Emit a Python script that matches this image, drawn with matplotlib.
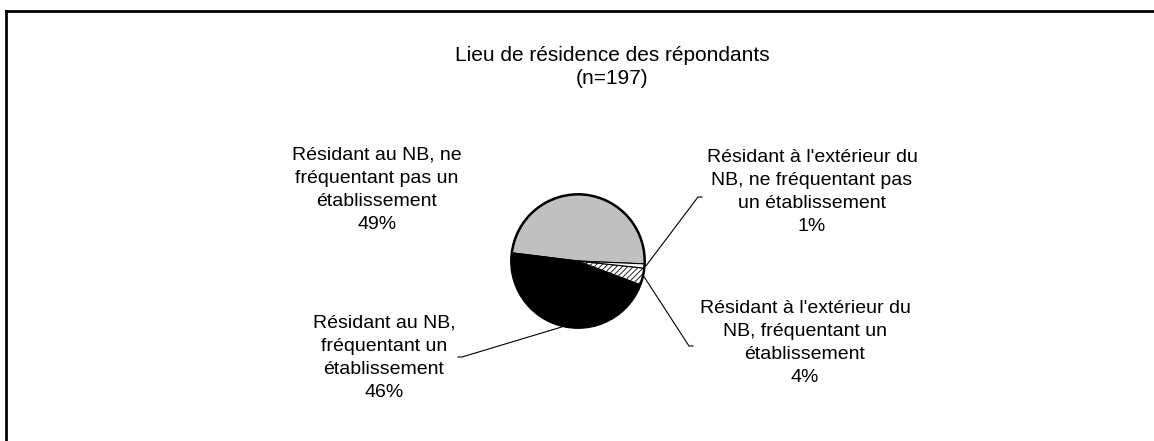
import numpy as np
import matplotlib
matplotlib.use('Agg')
import matplotlib.pyplot as plt

plt.rcParams['font.family'] = ['Liberation Sans', 'DejaVu Sans']
plt.rcParams['hatch.linewidth'] = 0.6

# data: counts out of n=197
labels = ["Résidant au NB, ne\nfréquentant pas un\nétablissement",
          "Résidant au NB,\nfréquentant un\nétablissement",
          "Résidant à l'extérieur du\nNB, fréquentant un\nétablissement",
          "Résidant à l'extérieur du\nNB, ne fréquentant pas\nun établissement"]
counts = [96, 91, 8, 2]
pcts = [49, 46, 4, 1]
colors = ['#c0c0c0', 'black', 'white', 'white']
hatches = [None, None, '//////', None]

title = "Lieu de résidence des répondants\n(n=197)"

W, H = 1154, 441
fig = plt.figure(figsize=(W / 100, H / 100), dpi=100)

# pixel overlay for text and lines
ov = fig.add_axes([0, 0, 1, 1])
ov.set_xlim(0, W)
ov.set_ylim(H, 0)
ov.axis('off')

# pie geometry in pixels
cx, cy, r = 578, 261, 68
axp = fig.add_axes([(cx - r) / W, (H - cy - r) / H, 2 * r / W, 2 * r / H])
wedges, _ = axp.pie(counts, colors=colors, startangle=-2.5, counterclock=True,
                    radius=1, wedgeprops=dict(edgecolor='black', linewidth=0.8))
for w, h in zip(wedges, hatches):
    if h:
        w.set_hatch(h)
axp.add_patch(plt.Circle((0, 0), 1, fill=False, ec='black', lw=1.8))
axp.set_xlim(-1.02, 1.02)
axp.set_ylim(-1.02, 1.02)
axp.axis('off')

# border
ov.plot([6, 6], [H + 5, 10.5], color='black', lw=2, solid_capstyle='projecting')
ov.plot([6, W + 5], [10.5, 10.5], color='black', lw=2, solid_capstyle='projecting')

fs = 14
ov.text(612, 67, title, ha='center', va='center', fontsize=15, linespacing=1.3)

# label positions (block centers, pixels)
label_pos = [(377, 190), (384, 358), (805, 343), (812, 192)]
for lab, p, (x, y) in zip(labels, pcts, label_pos):
    ov.text(x, y, f"{lab}\n{p}%", ha='center', va='center', fontsize=fs,
            linespacing=1.47)

# leader lines: (end point, tick direction) for wedges that have one
leader = {1: ((462, 357), -4), 2: ((689, 346), 4), 3: ((698, 197), 4)}
for i, ((ex, ey), tick) in leader.items():
    w = wedges[i]
    mid = np.deg2rad((w.theta1 + w.theta2) / 2)
    sx = cx + r * np.cos(mid)
    sy = cy - r * np.sin(mid)
    ov.plot([sx, ex, ex + tick], [sy, ey, ey], color='black', lw=0.8)

fig.savefig('out.png', dpi=100)
